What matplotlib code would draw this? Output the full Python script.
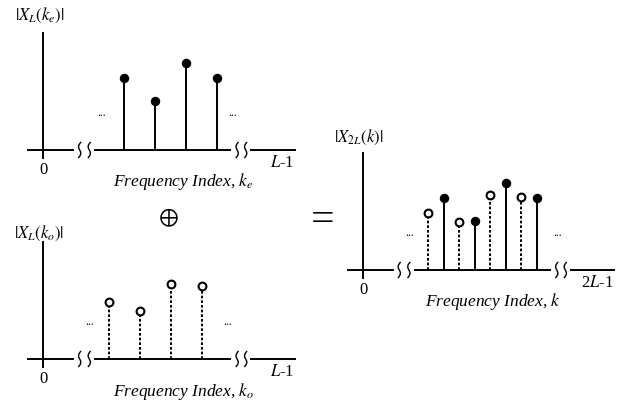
import numpy as np
import matplotlib.pyplot as plt

plt.rcParams['font.family'] = ['Liberation Serif', 'DejaVu Serif']
plt.rcParams['mathtext.fontset'] = 'stix'

# spectrum samples: positions on the 2L-point index k, and magnitudes
k_even = np.array([2, 4, 6, 8])
mag_even = np.array([0.72, 0.49, 0.87, 0.72])
k_odd = np.array([1, 3, 5, 7])
mag_odd = np.array([0.57, 0.48, 0.75, 0.73])

W, H = 620, 404
PX_X, PX_Y = 15.5, 100.0      # pixels per k unit / per magnitude unit
XMIN, XMAX, YMIN, YMAX = -5, 14, -0.45, 1.45

fig = plt.figure(figsize=(W / 100, H / 100), dpi=100)
lw = 1.4


def make_axes(x0_px, base_px):
    # x0_px: pixel column of k = 0, base_px: pixel row of the baseline
    left = x0_px + XMIN * PX_X
    top = base_px - YMAX * PX_Y
    w = (XMAX - XMIN) * PX_X
    h = (YMAX - YMIN) * PX_Y
    ax = fig.add_axes([left / W, (H - top - h) / H, w / W, h / H])
    ax.set_xlim(XMIN, XMAX)
    ax.set_ylim(YMIN, YMAX)
    ax.axis('off')
    ax.patch.set_visible(False)
    return ax


def frame(ax, ylabel, xlabel, endlabel, end_x, dots, ylab_y, xlab_x):
    ax.plot([-3.2, -3.2], [-0.08, 1.17], color='black', lw=lw)
    for a, b in [(-4.2, -1.29), (0.13, 8.84), (10.19, 13.0)]:
        ax.plot([a, b], [0, 0], color='black', lw=lw)
    t = np.linspace(0, 1, 40)
    for xc in [-0.86, -0.24, 9.3, 9.85]:
        ax.plot(xc - 0.1 * np.sin(2 * np.pi * t) + 0.12 * (0.5 - t),
                (0.5 - t) * 0.15, color='black', lw=1.0)
    for xd in dots:
        ax.text(xd, 0.37, '...', ha='center', va='center', fontsize=8.5)
    ax.text(-3.2, -0.2, '0', ha='center', va='center', fontsize=12)
    ax.text(end_x, -0.13, endlabel, ha='center', va='center', fontsize=12)
    ax.text(xlab_x, -0.32, xlabel, ha='center', va='center', fontsize=12.5,
            style='italic')
    ax.text(-3.45, ylab_y, ylabel, ha='center', va='center', fontsize=12)


def stems(ax, k, mag, filled):
    if filled:
        ax.vlines(k, 0, mag, colors='black', lw=lw)
        ax.plot(k, mag, 'o', color='black', ms=5.8, zorder=3)
    else:
        ax.vlines(k, 0, mag, colors='black', lw=lw, linestyles=(0, (1.4, 1.0)))
        ax.plot(k, mag, 'o', mfc='white', mec='black', mew=1.5, ms=5.6, zorder=3)


ax1 = make_axes(93, 150)
frame(ax1, r'$|X_L(k_e)|$', r'Frequency Index, $k_e$', r'$L$-1', 12.2,
      [0.58, 9.03], 1.35, 5.85)
stems(ax1, k_even, mag_even, True)

ax2 = make_axes(93, 359)
frame(ax2, r'$|X_L(k_o)|$', r'Frequency Index, $k_o$', r'$L$-1', 12.2,
      [-0.2, 8.7], 1.26, 5.85)
stems(ax2, k_odd, mag_odd, False)

ax3 = make_axes(412.6, 270)
frame(ax3, r'$|X_{2L}(k)|$', r'Frequency Index, $k$', r'2$L$-1', 11.9,
      [-0.17, 9.34], 1.33, 5.2)
stems(ax3, k_odd, mag_odd, False)
stems(ax3, k_even, mag_even, True)

fig.text(168 / W, 1 - 218 / H, r'$\oplus$', ha='center', va='center', fontsize=17)
fig.text(323 / W, 1 - 221 / H, '=', ha='center', va='center', fontsize=30)

fig.savefig('out.png', dpi=100)
